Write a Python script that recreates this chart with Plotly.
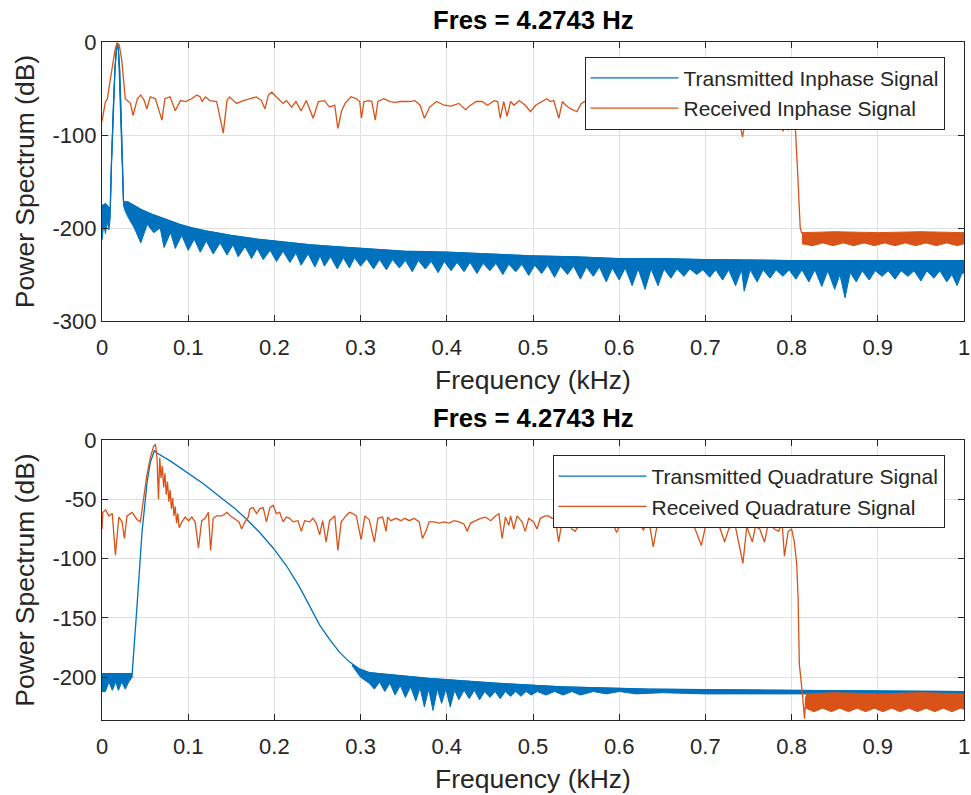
import plotly.graph_objects as go

BLUE = "#0072BD"
RED = "#D95319"
AXC = "#262626"
GRIDC = "#DFDFDF"
FONT = "Liberation Sans, Arial, sans-serif"

TITLE_TEXT = "Fres = 4.2743 Hz"
X_LABEL = "Frequency (kHz)"
Y_LABEL = "Power Spectrum (dB)"
X_TICKS = [0, 0.1, 0.2, 0.3, 0.4, 0.5, 0.6, 0.7, 0.8, 0.9, 1.0]
X_TICK_TEXT = ["0", "0.1", "0.2", "0.3", "0.4", "0.5", "0.6", "0.7", "0.8", "0.9", "1"]
TOP_Y_TICKS = [-300, -200, -100, 0]
TOP_Y_TEXT = ["-300", "-200", "-100", "0"]
BOT_Y_TICKS = [-200, -150, -100, -50, 0]
BOT_Y_TEXT = ["-200", "-150", "-100", "-50", "0"]
TOP_Y_RANGE = [-300, 0]
BOT_Y_RANGE = [-236, 0]

# ---------------- Top panel: Inphase ----------------
TX_I_UPPER = [
    (0.0, -176), (0.004, -174), (0.008, -178), (0.0095, -180), (0.011, -130),
    (0.013, -70), (0.015, -30), (0.0165, -10), (0.0178, -2), (0.019, -8),
    (0.0205, -30), (0.022, -75), (0.0235, -130), (0.025, -172), (0.03, -172),
    (0.045, -180), (0.06, -186), (0.075, -191), (0.09, -196), (0.105, -200),
    (0.12, -203), (0.15, -208), (0.18, -212), (0.21, -215), (0.24, -218),
    (0.27, -220), (0.3, -222), (0.35, -225), (0.4, -226), (0.45, -228),
    (0.5, -230), (0.55, -231), (0.6, -233), (0.65, -233), (0.7, -234),
    (0.8, -235), (0.9, -235), (1.0, -235),
]
TX_I_LOWER = [
    (0.0, -213), (0.002, -196), (0.004, -206), (0.006, -193), (0.008, -202),
    (0.0095, -190), (0.011, -130), (0.013, -70), (0.015, -30), (0.0165, -10),
    (0.0178, -2), (0.019, -8), (0.0205, -30), (0.022, -75), (0.0235, -130),
    (0.025, -176), (0.027, -182), (0.03, -188), (0.0375, -200), (0.045, -216),
    (0.0525, -196), (0.06, -205), (0.0675, -200), (0.072, -221), (0.0795, -205),
    (0.085, -222), (0.0925, -208), (0.1, -224), (0.107, -212), (0.114, -226),
    (0.121, -214), (0.129, -228), (0.137, -216), (0.145, -229), (0.152, -218),
    (0.158, -231), (0.166, -220), (0.1735, -233), (0.18, -222), (0.187, -234),
    (0.195, -224), (0.2025, -236), (0.21, -225), (0.218, -237), (0.225, -227),
    (0.231, -240), (0.239, -228), (0.247, -242), (0.253, -230), (0.258, -241),
    (0.265, -231), (0.273, -244), (0.28, -232), (0.287, -243), (0.293, -232),
    (0.30, -241), (0.307, -233), (0.315, -244), (0.322, -234), (0.33, -245),
    (0.337, -234), (0.345, -243), (0.352, -235), (0.36, -247), (0.367, -235),
    (0.375, -244), (0.382, -236), (0.39, -248), (0.397, -236), (0.405, -246),
    (0.412, -237), (0.42, -247), (0.427, -237), (0.435, -249), (0.442, -238),
    (0.45, -246), (0.457, -238), (0.465, -250), (0.472, -239), (0.48, -247),
    (0.487, -239), (0.495, -251), (0.502, -240), (0.51, -249), (0.517, -240),
    (0.525, -253), (0.532, -241), (0.54, -250), (0.547, -241), (0.555, -255),
    (0.562, -242), (0.57, -252), (0.577, -242), (0.585, -258), (0.592, -243),
    (0.60, -256), (0.607, -243), (0.615, -262), (0.622, -244), (0.63, -266),
    (0.637, -244), (0.645, -262), (0.652, -244), (0.66, -254), (0.667, -244),
    (0.675, -252), (0.682, -244), (0.69, -250), (0.697, -245), (0.705, -253),
    (0.712, -245), (0.72, -256), (0.727, -245), (0.735, -262), (0.742, -245),
    (0.745, -268), (0.752, -245), (0.76, -258), (0.767, -245), (0.775, -254),
    (0.782, -245), (0.79, -252), (0.797, -245), (0.805, -255), (0.812, -245),
    (0.82, -258), (0.827, -245), (0.835, -263), (0.842, -246), (0.85, -266),
    (0.856, -250), (0.862, -275), (0.868, -248), (0.875, -258), (0.882, -246),
    (0.89, -256), (0.897, -246), (0.905, -252), (0.912, -246), (0.92, -255),
    (0.927, -246), (0.935, -252), (0.942, -246), (0.95, -257), (0.957, -246),
    (0.965, -254), (0.972, -246), (0.98, -258), (0.986, -250), (0.992, -262),
    (0.997, -250), (1.0, -248),
]
RX_I = [
    (0.0, -85), (0.002, -72), (0.004, -64), (0.006, -62), (0.009, -45),
    (0.012, -25), (0.015, -9), (0.0175, -1), (0.02, -3), (0.023, -20),
    (0.025, -42), (0.027, -61), (0.033, -66), (0.036, -79), (0.041, -61),
    (0.045, -57), (0.049, -63), (0.052, -72), (0.056, -59), (0.062, -61),
    (0.0695, -84), (0.073, -61), (0.079, -59), (0.085, -74), (0.091, -63),
    (0.097, -64), (0.104, -61), (0.11, -57), (0.114, -59), (0.116, -64),
    (0.12, -59), (0.125, -63), (0.133, -64), (0.1407, -98), (0.145, -63),
    (0.148, -59), (0.156, -66), (0.164, -63), (0.172, -61), (0.179, -59),
    (0.185, -63), (0.189, -72), (0.193, -57), (0.197, -54), (0.2, -57),
    (0.206, -63), (0.21, -66), (0.214, -63), (0.22, -70), (0.225, -64),
    (0.231, -74), (0.237, -63), (0.245, -82), (0.251, -64), (0.258, -63),
    (0.264, -70), (0.27, -68), (0.2736, -93), (0.278, -74), (0.282, -66),
    (0.285, -63), (0.289, -59), (0.295, -61), (0.299, -64), (0.301, -82),
    (0.304, -64), (0.31, -63), (0.313, -64), (0.317, -84), (0.32, -64),
    (0.327, -61), (0.334, -64), (0.34, -65), (0.346, -64), (0.356, -64),
    (0.363, -63), (0.369, -68), (0.374, -82), (0.38, -70), (0.388, -64),
    (0.397, -68), (0.405, -69), (0.414, -66), (0.422, -73), (0.426, -69),
    (0.434, -64), (0.441, -64), (0.447, -68), (0.455, -63), (0.459, -64),
    (0.462, -82), (0.466, -64), (0.47, -80), (0.474, -64), (0.478, -68),
    (0.484, -63), (0.491, -68), (0.497, -75), (0.503, -68), (0.511, -64),
    (0.516, -61), (0.52, -64), (0.524, -63), (0.53, -82), (0.534, -64),
    (0.538, -68), (0.544, -72), (0.551, -75), (0.556, -66), (0.562, -63),
    (0.57, -66), (0.578, -62), (0.585, -70), (0.592, -64), (0.6, -67),
    (0.608, -63), (0.615, -72), (0.622, -65), (0.63, -68), (0.64, -90),
    (0.648, -66), (0.656, -63), (0.664, -69), (0.672, -65), (0.68, -70),
    (0.688, -64), (0.697, -88), (0.705, -66), (0.713, -63), (0.72, -70),
    (0.728, -66), (0.736, -68), (0.743, -102), (0.75, -68), (0.758, -65),
    (0.766, -70), (0.774, -66), (0.782, -72), (0.79, -96), (0.793, -85),
    (0.796, -95), (0.8, -78), (0.804, -86), (0.807, -140), (0.81, -200),
    (0.812, -206),
]
RX_I_BAND_UPPER = [(0.812, -205), (0.85, -204), (0.9, -205), (0.95, -204), (1.0, -205)]
RX_I_BAND_LOWER = [
    (0.812, -217), (0.824, -219), (0.836, -216), (0.848, -219), (0.86, -216),
    (0.872, -219), (0.884, -216), (0.896, -219), (0.908, -216), (0.92, -219),
    (0.932, -216), (0.944, -219), (0.956, -216), (0.968, -219), (0.98, -216),
    (0.992, -219), (1.0, -217),
]

# ---------------- Bottom panel: Quadrature ----------------
TX_Q = [
    (0.0, -197), (0.035, -197), (0.0407, -139), (0.0464, -78), (0.0522, -36),
    (0.056, -19), (0.0607, -9), (0.0638, -11), (0.08, -18), (0.0984, -27),
    (0.118, -37), (0.137, -48), (0.153, -57), (0.168, -67), (0.183, -78),
    (0.1985, -91), (0.214, -106), (0.2293, -124), (0.241, -140), (0.2525, -156),
    (0.264, -168), (0.2756, -179), (0.287, -187), (0.2987, -193), (0.31, -196),
    (0.322, -197), (0.3795, -201), (0.4566, -205), (0.5336, -208), (0.634, -210),
    (0.8, -211), (1.0, -212),
]
TX_Q_BAND_A_UPPER = [(0.0, -197), (0.035, -197)]
TX_Q_BAND_A_LOWER = [
    (0.0, -212), (0.004, -212), (0.008, -204), (0.012, -211), (0.016, -204),
    (0.019, -211), (0.023, -204), (0.027, -210), (0.031, -204), (0.035, -200),
]
TX_Q_BAND_B_UPPER = [
    (0.29, -189), (0.2987, -193), (0.31, -196), (0.322, -197), (0.3795, -201),
    (0.4566, -205), (0.5336, -208), (0.634, -210), (0.8, -211), (1.0, -212),
]
TX_Q_BAND_B_LOWER = [
    (0.29, -190), (0.3, -200), (0.31, -205), (0.316, -210), (0.322, -204),
    (0.328, -212), (0.334, -205), (0.34, -215), (0.346, -207), (0.352, -217),
    (0.358, -208), (0.364, -220), (0.369, -209), (0.374, -225), (0.379, -210),
    (0.384, -228), (0.389, -210), (0.394, -222), (0.399, -210), (0.404, -225),
    (0.409, -211), (0.414, -219), (0.42, -211), (0.426, -218), (0.432, -211),
    (0.438, -219), (0.444, -212), (0.45, -217), (0.456, -212), (0.462, -218),
    (0.468, -212), (0.474, -216), (0.48, -212), (0.486, -216), (0.492, -212),
    (0.498, -215), (0.505, -212), (0.515, -215), (0.525, -212), (0.535, -215),
    (0.545, -212), (0.555, -215), (0.57, -212), (0.585, -214), (0.6, -212),
    (0.62, -214), (0.65, -213), (0.7, -214), (0.8, -214), (0.9, -214), (1.0, -214),
]
RX_Q = [
    (0.0, -75), (0.001, -61), (0.0042, -59), (0.0081, -64), (0.0119, -62),
    (0.0156, -97), (0.0195, -65), (0.0233, -69), (0.026, -83), (0.029, -64),
    (0.0348, -61), (0.0406, -67), (0.0445, -69), (0.048, -50), (0.052, -30),
    (0.056, -15), (0.06, -5), (0.062, -4), (0.0638, -15), (0.0655, -50),
    (0.067, -15), (0.0685, -32), (0.07, -22), (0.0715, -40), (0.073, -28),
    (0.0745, -46), (0.076, -35), (0.0775, -52), (0.079, -42), (0.0805, -58),
    (0.082, -49), (0.0835, -64), (0.085, -56), (0.0865, -70), (0.088, -62),
    (0.0895, -74), (0.0927, -69), (0.0965, -65), (0.1004, -68), (0.1042, -65),
    (0.108, -69), (0.1119, -91), (0.1157, -68), (0.1196, -66), (0.1234, -61),
    (0.126, -93), (0.129, -66), (0.133, -64), (0.139, -64), (0.145, -61),
    (0.149, -64), (0.153, -66), (0.159, -69), (0.162, -75), (0.1658, -69),
    (0.1696, -65), (0.1716, -58), (0.1754, -57), (0.1793, -62), (0.183, -58),
    (0.187, -57), (0.1908, -69), (0.1947, -57), (0.1985, -55), (0.2023, -62),
    (0.2062, -61), (0.21, -69), (0.2139, -65), (0.2177, -66), (0.2216, -69),
    (0.2274, -68), (0.2313, -77), (0.235, -68), (0.241, -69), (0.2447, -66),
    (0.2485, -70), (0.2525, -80), (0.256, -68), (0.26, -86), (0.264, -68),
    (0.27, -64), (0.2736, -93), (0.2775, -69), (0.283, -64), (0.287, -61),
    (0.291, -62), (0.295, -64), (0.3006, -84), (0.305, -64), (0.31, -67),
    (0.316, -86), (0.32, -66), (0.3256, -65), (0.3295, -77), (0.3314, -65),
    (0.335, -68), (0.341, -66), (0.347, -68), (0.351, -66), (0.3565, -68),
    (0.362, -66), (0.368, -69), (0.3718, -83), (0.3757, -77), (0.3795, -69),
    (0.3853, -69), (0.391, -70), (0.397, -69), (0.4026, -70), (0.4084, -68),
    (0.414, -69), (0.42, -71), (0.4238, -77), (0.4276, -70), (0.4334, -68),
    (0.439, -66), (0.445, -65), (0.451, -68), (0.4565, -64), (0.4604, -62),
    (0.4642, -83), (0.468, -65), (0.472, -72), (0.474, -64), (0.4777, -75),
    (0.4815, -64), (0.4873, -69), (0.491, -77), (0.495, -66), (0.5008, -69),
    (0.5046, -75), (0.5085, -66), (0.5143, -64), (0.518, -64), (0.522, -66),
    (0.5259, -66), (0.5297, -86), (0.5336, -69), (0.5374, -70), (0.5412, -69),
    (0.545, -75), (0.549, -77), (0.553, -72), (0.56, -66), (0.568, -70),
    (0.575, -64), (0.583, -72), (0.59, -66), (0.597, -78), (0.604, -66),
    (0.612, -70), (0.62, -65), (0.628, -76), (0.634, -66), (0.6395, -90),
    (0.645, -68), (0.652, -66), (0.66, -70), (0.666, -68), (0.673, -72),
    (0.68, -68), (0.687, -73), (0.6953, -89), (0.7, -73), (0.707, -70),
    (0.714, -68), (0.7223, -86), (0.727, -75), (0.734, -70), (0.7435, -104),
    (0.748, -73), (0.7545, -86), (0.758, -73), (0.763, -75), (0.7686, -86),
    (0.773, -70), (0.78, -75), (0.785, -77), (0.789, -70), (0.7917, -98),
    (0.796, -77), (0.8, -75), (0.8032, -86), (0.806, -105), (0.8075, -133),
    (0.809, -189), (0.8128, -216), (0.815, -235), (0.8165, -216),
]
RX_Q_BAND_UPPER = [(0.8165, -214), (0.85, -213), (0.9, -214), (0.95, -213), (1.0, -214)]
RX_Q_BAND_LOWER = [
    (0.8165, -226), (0.826, -229), (0.836, -226), (0.846, -229), (0.856, -226),
    (0.866, -229), (0.876, -226), (0.886, -229), (0.896, -226), (0.906, -229),
    (0.916, -226), (0.926, -229), (0.936, -226), (0.946, -229), (0.956, -226),
    (0.966, -229), (0.976, -226), (0.986, -229), (0.996, -226), (1.0, -227),
]


def xs(pts):
    return [p[0] for p in pts]


def ys(pts):
    return [p[1] for p in pts]


def band(upper, lower, color, xa, ya):
    poly = list(upper) + list(reversed(lower))
    return go.Scatter(x=xs(poly), y=ys(poly), mode="lines", fill="toself",
                      fillcolor=color, line=dict(color=color, width=1),
                      showlegend=False, hoverinfo="skip", xaxis=xa, yaxis=ya)


def line(pts, color, name, xa, ya, leg):
    return go.Scatter(x=xs(pts), y=ys(pts), mode="lines", name=name,
                      line=dict(color=color, width=1.3), xaxis=xa, yaxis=ya,
                      legend=leg)


fig = go.Figure()
fig.add_trace(band(TX_I_UPPER, TX_I_LOWER, BLUE, "x", "y"))
fig.add_trace(line(TX_I_UPPER, BLUE, "Transmitted Inphase Signal", "x", "y", "legend"))
fig.add_trace(line(RX_I, RED, "Received Inphase Signal", "x", "y", "legend"))
fig.add_trace(band(RX_I_BAND_UPPER, RX_I_BAND_LOWER, RED, "x", "y"))
fig.add_trace(band(TX_Q_BAND_A_UPPER, TX_Q_BAND_A_LOWER, BLUE, "x2", "y2"))
fig.add_trace(band(TX_Q_BAND_B_UPPER, TX_Q_BAND_B_LOWER, BLUE, "x2", "y2"))
fig.add_trace(line(TX_Q, BLUE, "Transmitted Quadrature Signal", "x2", "y2", "legend2"))
fig.add_trace(line(RX_Q, RED, "Received Quadrature Signal", "x2", "y2", "legend2"))
fig.add_trace(band(RX_Q_BAND_UPPER, RX_Q_BAND_LOWER, RED, "x2", "y2"))

# ---- geometry (page pixels; the page body margin is removed below) ----
W, H = 971, 795
ML = 101.5
MR = W - 964.5
TOP_PX = (42.0, 321.0)
BOT_PX = (440.0, 720.0)
MT = TOP_PX[0]
MB = H - BOT_PX[1]
PW, PH = W - ML - MR, H - MT - MB


def ydom(px):
    return [max(0.0, (H - MB - px[1]) / PH), min(1.0, (H - MB - px[0]) / PH)]


def py(ypx):
    return (H - MB - ypx) / PH


def px_(xpx):
    return (xpx - ML) / PW


axis_common = dict(
    showline=True, linecolor=AXC, linewidth=1, mirror="ticks",
    ticks="inside", ticklen=6, tickcolor=AXC, tickwidth=1,
    showgrid=True, gridcolor=GRIDC, gridwidth=1, zeroline=False,
    automargin=False, ticklabeloverflow="allow",
    tickfont=dict(family=FONT, size=22, color=AXC),
)
xcommon = dict(axis_common, range=[0, 1], tickvals=X_TICKS, ticktext=X_TICK_TEXT,
               ticklabelstandoff=7,
               title=dict(text=X_LABEL, font=dict(family=FONT, size=26.5, color=AXC), standoff=11))
ytitle = dict(text=Y_LABEL, font=dict(family=FONT, size=26.5, color=AXC), standoff=10)
leg_common = dict(xanchor="right", yanchor="top", bgcolor="white", bordercolor=AXC,
                  borderwidth=1, font=dict(family=FONT, size=21, color=AXC),
                  itemwidth=88, tracegroupgap=0)

fig.update_layout(
    width=W, height=H,
    margin=dict(l=ML, r=MR, t=MT, b=MB, autoexpand=False),
    paper_bgcolor="white", plot_bgcolor="white",
    font=dict(family=FONT, color=AXC),
    xaxis=dict(xcommon, domain=[0, 1], anchor="y"),
    yaxis=dict(axis_common, domain=ydom(TOP_PX), anchor="x", range=TOP_Y_RANGE,
               tickvals=TOP_Y_TICKS, ticktext=TOP_Y_TEXT, title=ytitle),
    xaxis2=dict(xcommon, domain=[0, 1], anchor="y2"),
    yaxis2=dict(axis_common, domain=ydom(BOT_PX), anchor="x2", range=BOT_Y_RANGE,
                tickvals=BOT_Y_TICKS, ticktext=BOT_Y_TEXT, title=ytitle),
    legend=dict(leg_common, x=px_(945), y=py(56.7)),
    legend2=dict(leg_common, x=px_(945), y=py(455)),
    annotations=[
        dict(text="<b>" + TITLE_TEXT + "</b>", x=0.5, y=py(20),
             xref="paper", yref="paper", xanchor="center", yanchor="middle",
             showarrow=False, font=dict(family=FONT, size=25.7, color="black")),
        dict(text="<b>" + TITLE_TEXT + "</b>", x=0.5, y=py(418),
             xref="paper", yref="paper", xanchor="center", yanchor="middle",
             showarrow=False, font=dict(family=FONT, size=25.7, color="black")),
    ],
)

fig.write_html(
    "out.html",
    config={"displayModeBar": False},
    post_script="document.body.style.margin='0';document.body.style.overflow='hidden';",
)
